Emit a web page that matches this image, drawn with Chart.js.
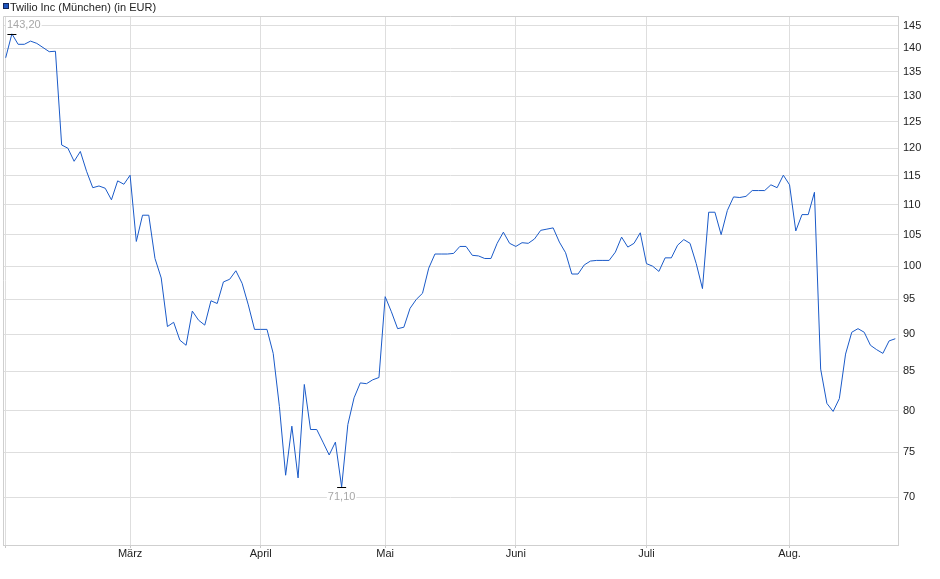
<!DOCTYPE html>
<html>
<head>
<meta charset="utf-8">
<script src="https://cdn.jsdelivr.net/npm/chart.js@4.4.1/dist/chart.umd.min.js"></script>
<style>
  html, body { margin: 0; padding: 0; background: #ffffff; }
  canvas { display: block; }
</style>
</head>
<body>
<canvas id="c" width="940" height="579"></canvas>
<script>
// ---------- data ----------
const seriesTitle = 'Twilio Inc (München) (in EUR)';

const dates = [
  // Feb
  '2025-02-03','2025-02-04','2025-02-05','2025-02-06','2025-02-07','2025-02-10','2025-02-11','2025-02-12','2025-02-13','2025-02-14',
  '2025-02-17','2025-02-18','2025-02-19','2025-02-20','2025-02-21','2025-02-24','2025-02-25','2025-02-26','2025-02-27','2025-02-28',
  // Mar
  '2025-03-03','2025-03-04','2025-03-05','2025-03-06','2025-03-07','2025-03-10','2025-03-11','2025-03-12','2025-03-13','2025-03-14',
  '2025-03-17','2025-03-18','2025-03-19','2025-03-20','2025-03-21','2025-03-24','2025-03-25','2025-03-26','2025-03-27','2025-03-28','2025-03-31',
  // Apr
  '2025-04-01','2025-04-02','2025-04-03','2025-04-04','2025-04-07','2025-04-08','2025-04-09','2025-04-10','2025-04-11','2025-04-14',
  '2025-04-15','2025-04-16','2025-04-17','2025-04-22','2025-04-23','2025-04-24','2025-04-25','2025-04-28','2025-04-29','2025-04-30',
  // May
  '2025-05-02','2025-05-05','2025-05-06','2025-05-07','2025-05-08','2025-05-09','2025-05-12','2025-05-13','2025-05-14','2025-05-15',
  '2025-05-16','2025-05-19','2025-05-20','2025-05-21','2025-05-22','2025-05-23','2025-05-26','2025-05-27','2025-05-28','2025-05-29','2025-05-30',
  // Jun
  '2025-06-02','2025-06-03','2025-06-04','2025-06-05','2025-06-06','2025-06-09','2025-06-10','2025-06-11','2025-06-12','2025-06-13',
  '2025-06-16','2025-06-17','2025-06-18','2025-06-19','2025-06-20','2025-06-23','2025-06-24','2025-06-25','2025-06-26','2025-06-27','2025-06-30',
  // Jul
  '2025-07-01','2025-07-02','2025-07-03','2025-07-04','2025-07-07','2025-07-08','2025-07-09','2025-07-10','2025-07-11','2025-07-14',
  '2025-07-15','2025-07-16','2025-07-17','2025-07-18','2025-07-21','2025-07-22','2025-07-23','2025-07-24','2025-07-25','2025-07-28',
  '2025-07-29','2025-07-30','2025-07-31',
  // Aug
  '2025-08-01','2025-08-04','2025-08-05','2025-08-06','2025-08-07','2025-08-08','2025-08-11','2025-08-12','2025-08-13','2025-08-14',
  '2025-08-15','2025-08-18','2025-08-19','2025-08-20','2025-08-21','2025-08-22','2025-08-25','2025-08-26'
];

const prices = [
  // Feb
  138.0,143.2,140.9,140.9,141.6,141.1,140.2,139.3,139.4,120.6,
  120.0,117.6,119.4,115.8,112.9,113.2,112.8,110.8,114.1,113.5,
  // Mar
  115.1,103.9,108.2,108.2,101.2,98.2,91.1,91.7,89.2,88.5,
  93.3,92.0,91.3,94.8,94.4,97.6,98.0,99.3,97.4,94.2,90.7,
  // Apr
  90.7,90.7,87.4,80.5,72.4,78.1,72.1,83.3,77.7,77.7,
  76.2,74.7,76.2,71.1,78.3,81.6,83.5,83.4,83.9,84.2,
  // May
  95.4,93.2,90.8,91.0,93.7,95.0,95.9,99.7,101.9,101.9,
  101.9,102.0,103.1,103.1,101.7,101.6,101.2,101.2,103.6,105.4,103.6,
  // Jun
  103.1,103.7,103.6,104.3,105.7,105.9,106.1,103.8,102.1,98.8,
  98.8,100.2,100.8,100.9,100.9,100.9,102.2,104.6,103.0,103.6,105.3,
  // Jul
  100.4,100.0,99.2,101.3,101.3,103.3,104.2,103.6,100.4,96.6,
  108.7,108.7,105.0,109.0,111.3,111.2,111.4,112.4,112.4,112.4,
  113.4,112.9,115.1,
  // Aug
  113.4,105.6,108.3,108.3,112.1,85.3,80.9,79.9,81.5,87.3,
  90.3,90.8,90.3,88.5,87.9,87.4,89.1,89.4
];

const monthKeys   = ['2025-02','2025-03','2025-04','2025-05','2025-06','2025-07','2025-08'];
const monthLabels = ['',       'März',   'April',  'Mai',    'Juni',   'Juli',   'Aug.'];
const yTicks = [70,75,80,85,90,95,100,105,110,115,120,125,130,135,140,145];
const yMin = 65, yMax = 147.2;

// ---------- derived ----------
const monthStarts = monthKeys.map(k => dates.findIndex(d => d.startsWith(k)));
const points = prices.map((v, i) => ({ x: i, y: v }));
const fmt = v => v.toFixed(2).replace('.', ',');

const FONT = '"Liberation Sans", Arial, Helvetica, sans-serif';
Chart.defaults.font.family = FONT;
Chart.defaults.font.size = 11;

const GRID = '#dedede';
const BORDER = '#cfcfcf';
const LINE = '#1a5ac8';

const overlay = {
  id: 'overlay',
  beforeDatasetsDraw(chart) {
    const { ctx, chartArea: a } = chart;
    ctx.save();
    ctx.strokeStyle = BORDER;
    ctx.lineWidth = 1;
    ctx.beginPath();
    ctx.moveTo(a.left + 0.5, a.bottom);
    ctx.lineTo(a.left + 0.5, a.top + 0.5);
    ctx.lineTo(a.right, a.top + 0.5);
    ctx.stroke();
    ctx.restore();
  },
  afterDatasetsDraw(chart) {
    const { ctx, chartArea: a } = chart;
    const xs = chart.scales.x, ys = chart.scales.y;
    let iMax = 0, iMin = 0;
    prices.forEach((v, i) => { if (v > prices[iMax]) iMax = i; if (v < prices[iMin]) iMin = i; });
    ctx.save();
    ctx.font = '11px ' + FONT;
    const mark = (i, above) => {
      const px = xs.getPixelForValue(i);
      const py = ys.getPixelForValue(prices[i]);
      ctx.strokeStyle = '#000';
      ctx.lineWidth = 1;
      ctx.beginPath();
      ctx.moveTo(px - 4.5, Math.round(py) + 0.5);
      ctx.lineTo(px + 4.5, Math.round(py) + 0.5);
      ctx.stroke();
      const txt = fmt(prices[i]);
      const w = ctx.measureText(txt).width;
      let cx = px;
      if (cx - w / 2 < a.left + 4) cx = a.left + 4 + w / 2;
      const cy = above ? py - 8.5 : py + 10;
      ctx.fillStyle = '#ffffff';
      ctx.fillRect(cx - w / 2 - 1, cy - 6, w + 2, 12);
      ctx.fillStyle = '#a8a8a8';
      ctx.textAlign = 'center';
      ctx.textBaseline = 'middle';
      ctx.fillText(txt, cx, cy);
    };
    mark(iMax, true);
    mark(iMin, false);
    ctx.restore();
  },
  afterDraw(chart) {
    const { ctx } = chart;
    ctx.save();
    ctx.fillStyle = '#1f56c0';
    ctx.fillRect(3, 3, 6, 6);
    ctx.strokeStyle = '#14265a';
    ctx.lineWidth = 1;
    ctx.strokeRect(3.5, 3.5, 5, 5);
    ctx.fillStyle = '#222222';
    ctx.font = '11px ' + FONT;
    ctx.textAlign = 'left';
    ctx.textBaseline = 'alphabetic';
    ctx.fillText(seriesTitle, 10, 10.6);
    ctx.restore();
  }
};

new Chart(document.getElementById('c'), {
  type: 'line',
  data: {
    datasets: [{
      label: seriesTitle,
      data: points,
      borderColor: LINE,
      backgroundColor: LINE,
      borderWidth: 1,
      pointRadius: 0,
      tension: 0,
      fill: false
    }]
  },
  options: {
    responsive: false,
    animation: false,
    devicePixelRatio: 1,
    layout: { padding: { top: 16, left: 3, right: 0, bottom: 0 } },
    plugins: { legend: { display: false }, tooltip: { enabled: false } },
    scales: {
      x: {
        type: 'linear',
        bounds: 'data',
        min: -0.43,
        max: prices.length - 1 + 0.43,
        afterBuildTicks(s) { s.ticks = monthStarts.map(i => ({ value: i })); },
        afterFit(s) { s.height = 34; },
        ticks: {
          autoSkip: false,
          maxRotation: 0,
          padding: -1,
          color: '#222222',
          font: { size: 11 },
          callback: (v, idx) => monthLabels[idx]
        },
        grid: { color: GRID, tickLength: 3, tickColor: '#c8c8c8', drawTicks: true },
        border: { color: BORDER }
      },
      y: {
        type: 'logarithmic',
        position: 'right',
        bounds: 'data',
        min: yMin,
        max: yMax,
        afterBuildTicks(s) { s.ticks = yTicks.map(v => ({ value: v })); },
        afterFit(s) { s.width = 42; },
        ticks: {
          padding: 5,
          color: '#222222',
          font: { size: 11 },
          callback: v => String(v)
        },
        grid: { color: GRID, drawTicks: false },
        border: { color: BORDER }
      }
    }
  },
  plugins: [overlay]
});
</script>
</body>
</html>
